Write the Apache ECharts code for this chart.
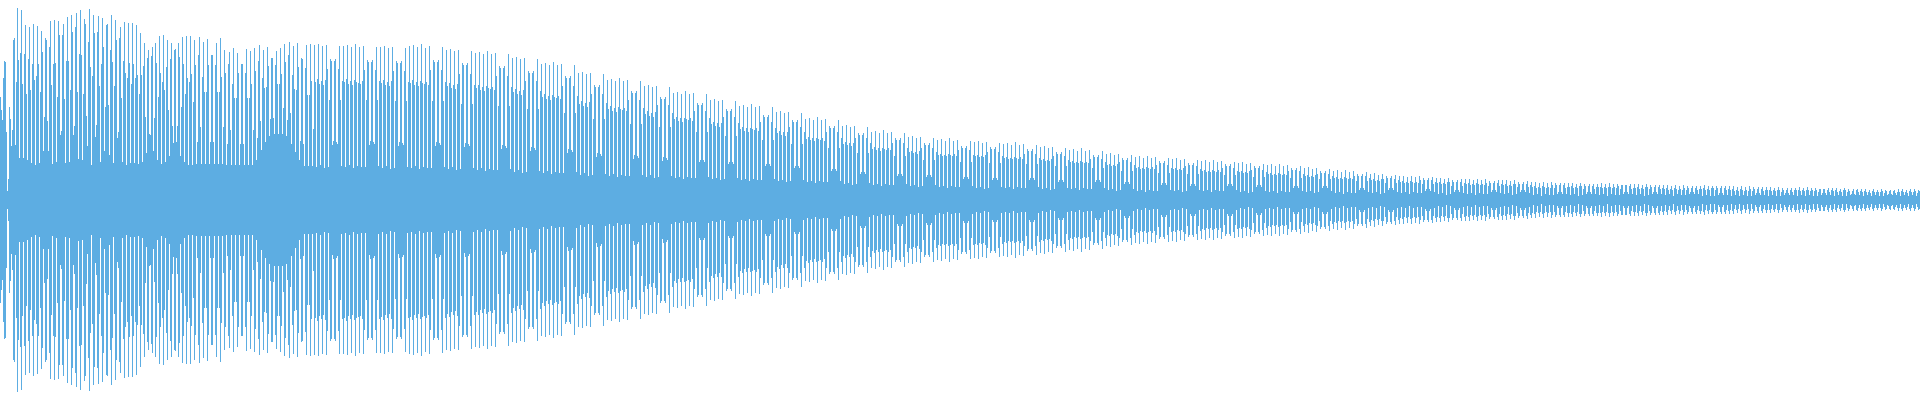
<!DOCTYPE html>
<html>
<head>
<meta charset="utf-8">
<script src="https://cdn.jsdelivr.net/npm/echarts@6/dist/echarts.min.js"></script>
<style>html,body{margin:0;padding:0;background:#fff;}#chart{width:1920px;height:400px;}</style>
</head>
<body>
<div id="chart"></div>
<script>
// Half-range (peak amplitude) of the waveform in each pixel column.
const amplitude = [
103,90,80,122,139,138,68,9,21,93,81,54,70,160,162,55,118,192,140,42,
147,190,116,42,146,175,106,40,141,173,110,37,136,176,120,35,124,174,136,37,
108,169,148,49,83,162,160,79,49,153,179,115,36,136,180,137,38,103,179,165,
65,69,165,176,101,37,139,183,139,38,110,185,168,65,74,173,187,108,41,146,
190,145,40,106,181,176,84,54,158,191,133,35,124,185,167,63,75,168,184,114,
38,136,182,153,49,93,175,176,95,45,150,185,138,37,114,180,160,62,68,162,
173,102,38,139,178,127,35,122,177,137,37,116,177,136,37,122,175,125,36,106,
167,125,38,134,157,83,47,142,150,66,65,144,153,49,82,157,137,40,103,164,
127,36,118,165,110,38,133,160,90,44,141,157,74,57,150,151,58,74,157,143,
44,93,163,136,38,106,164,122,35,118,164,126,35,98,
160,135,36,58,145,163,73,36,123,158,108,36,108,161,135,36,58,145,145,58,36,135,157,108,36,108,162,123,36,73,
150,127,35,56,136,148,70,35,116,152,102,35,102,147,127,35,56,136,136,56,35,127,151,102,35,102,149,116,35,70,
152,129,40,62,139,155,79,50,122,150,112,58,113,153,134,64,81,142,142,82,66,135,149,116,66,116,152,126,66,92,
156,138,64,80,145,158,87,56,125,154,111,48,110,157,133,40,59,142,141,56,34,132,155,105,34,105,156,119,34,71,
155,118,33,121,156,116,35,119,154,115,32,120,155,131,33,100,141,139,55,59,139,141,58,56,131,154,100,34,119,
154,118,33,121,155,116,35,119,153,115,32,120,156,118,34,117,153,116,33,119,154,130,33,100,140,138,55,59,138,140,58,56,130,153,100,34,119,
153,117,32,120,154,115,34,118,152,114,31,119,153,129,32,99,139,137,54,58,137,139,57,55,129,152,99,33,118,
154,117,32,120,155,115,34,118,153,114,31,119,156,117,33,116,152,118,32,115,154,130,32,99,140,138,54,58,138,140,57,55,130,153,99,33,118,
150,114,31,117,151,112,33,115,149,111,30,116,150,126,31,96,137,135,53,57,135,137,56,54,126,149,96,32,115,
147,112,30,115,148,110,32,113,146,109,29,114,149,112,31,111,146,113,30,110,147,124,30,94,134,132,51,55,132,134,54,52,124,146,94,31,113,
142,108,28,111,143,106,30,109,141,105,27,110,142,119,28,91,129,127,49,53,127,129,52,50,119,141,91,29,109,
136,103,27,106,137,101,29,104,135,100,26,105,138,103,28,102,135,104,27,101,136,114,27,87,124,122,47,51,122,124,50,48,114,135,87,28,104,
127,96,25,99,128,94,27,97,126,93,24,98,127,106,25,81,115,113,43,47,113,115,46,44,106,126,81,26,97,
120,91,24,94,121,89,26,92,119,88,23,93,122,91,25,90,119,92,24,89,120,100,24,76,109,107,41,45,107,109,44,42,100,119,76,25,92,
114,86,23,89,115,84,25,87,113,83,22,88,114,95,23,73,103,101,39,43,101,103,42,40,95,113,73,24,87,
107,81,22,83,108,79,23,82,106,78,21,82,109,81,23,80,106,82,22,79,107,89,22,68,97,95,38,40,95,97,40,38,89,106,68,23,82,
100,76,21,78,101,74,22,77,99,73,20,77,100,83,21,64,91,89,36,38,89,91,38,36,83,99,64,22,77,
94,71,20,73,95,69,21,72,93,68,19,72,96,71,21,70,93,72,20,69,94,78,20,60,85,83,34,36,83,85,36,34,78,93,60,21,72,
88,67,19,69,89,65,20,68,87,64,18,68,88,73,19,56,80,78,32,34,78,80,34,32,73,87,56,20,68,
81,61,18,63,82,60,19,62,80,59,17,62,83,61,19,60,80,62,18,59,81,68,18,52,74,72,29,31,72,74,31,29,68,80,52,19,62,
74,56,16,58,75,55,17,57,73,54,15,57,74,62,16,47,67,65,26,28,65,67,28,26,62,73,47,17,57,
68,51,15,53,69,50,16,52,67,49,14,52,70,51,16,50,67,52,15,50,68,57,15,44,62,60,24,26,60,62,26,24,57,67,44,16,52,
63,48,14,49,64,47,15,48,62,46,13,49,63,52,14,40,57,55,23,25,55,57,25,23,52,62,40,15,48,
60,45,13,46,61,44,14,45,59,44,12,46,62,45,14,44,59,46,13,44,60,50,13,38,54,52,21,23,52,54,23,21,50,59,38,14,45,
58,44,12,45,59,43,13,44,57,43,11,45,58,48,12,37,53,51,20,22,51,53,22,20,48,57,37,13,44,
56,42,12,43,57,41,13,42,55,41,11,43,58,42,13,41,55,43,12,41,56,46,12,36,51,49,20,22,49,51,22,20,46,55,36,13,42,
53,40,11,41,54,39,12,40,52,39,10,41,53,44,11,34,48,46,18,20,46,48,20,18,44,52,34,12,40,
50,38,11,39,51,37,12,38,49,37,10,39,52,38,12,37,49,38,11,37,50,41,11,32,45,43,18,20,43,45,20,18,41,49,32,12,38,
46,35,10,36,47,34,11,35,45,34,9,36,46,38,10,29,42,40,16,18,40,42,18,16,38,45,29,11,35,
43,32,9,33,44,31,10,32,42,31,8,33,44,32,10,31,42,33,9,31,43,35,9,27,39,37,15,17,37,39,17,15,35,42,27,10,32,
41,31,9,32,42,30,10,31,40,30,8,32,41,34,9,26,37,35,14,16,35,37,16,14,34,40,26,10,31,
39,29,9,30,40,28,10,29,38,28,8,30,40,29,10,28,38,30,9,28,39,32,9,25,36,34,14,16,34,36,16,14,32,38,25,10,29,
37,28,8,29,38,27,9,28,36,27,7,29,37,30,8,23,34,32,13,15,32,34,15,13,30,36,23,9,28,
35,26,8,27,36,25,9,26,34,25,7,27,36,26,9,25,34,26,8,25,35,29,8,22,32,30,12,14,30,32,14,12,29,34,22,9,26,
32,24,8,25,33,23,9,24,31,23,7,25,32,26,8,21,29,27,12,14,27,29,14,12,26,31,21,9,24,
29,22,7,23,30,21,8,22,28,21,6,23,30,22,8,21,28,22,7,21,29,24,7,19,26,24,10,12,24,26,12,10,24,28,19,8,22,
26,20,7,21,27,19,8,20,25,19,6,21,26,21,7,17,24,22,10,12,22,24,12,10,21,25,17,8,20,
24,18,7,19,24,17,8,18,23,17,6,19,24,18,8,17,23,18,7,17,24,20,7,16,22,20,9,11,20,22,11,9,20,23,16,8,18,
22,17,6,18,22,16,7,17,21,16,5,18,22,18,6,14,20,18,8,10,18,20,10,8,18,21,14,7,17,
21,16,6,17,21,15,7,16,20,15,5,17,21,16,7,15,20,16,6,15,21,17,6,14,19,17,8,10,17,19,10,8,17,20,14,7,16,
20,15,6,16,20,14,7,15,19,14,5,16,20,16,6,13,18,16,8,10,16,18,10,8,16,19,13,7,15,
18,13,5,14,18,12,6,13,17,12,4,14,18,13,6,12,17,13,5,12,18,15,5,12,17,15,6,8,15,17,8,6,15,17,12,6,13,
17,13,5,14,17,12,6,13,16,12,4,14,17,14,5,11,16,14,6,8,14,16,8,6,14,16,11,6,13,
16,13,5,13,17,12,6,13,16,12,4,13,17,13,6,12,16,13,5,12,16,14,5,11,15,15,6,8,15,15,8,6,14,16,11,6,12,
16,12,5,13,16,11,6,12,15,11,4,13,16,13,5,11,15,13,6,8,13,15,8,6,13,15,11,6,12,
15,11,5,12,15,10,6,11,14,10,4,12,15,11,6,10,14,11,5,10,15,12,5,10,14,12,6,8,12,14,8,6,12,14,10,6,11,
14,11,4,12,15,10,5,11,14,10,4,12,14,12,4,10,14,12,5,7,12,14,7,5,12,14,10,5,11,
14,10,4,11,14,9,5,10,13,9,4,11,14,10,5,9,13,10,4,9,14,11,4,9,13,11,5,7,11,13,7,5,11,13,9,5,10,
13,10,4,10,13,9,5,10,12,9,4,10,13,10,4,8,12,10,5,7,10,12,7,5,10,12,8,5,10,
12,10,4,10,13,9,5,10,12,9,4,10,13,10,5,9,12,10,4,9,12,10,4,8,11,11,5,7,11,11,7,5,10,12,8,5,10,
12,9,4,10,12,8,5,9,11,8,4,10,12,10,4,8,11,9,5,6,9,11,6,5,10,11,8,5,9,
11,8,4,9,11,8,5,8,10,7,4,9,11,8,5,8,10,8,4,8,11,9,4,7,10,9,5,6,9,10,6,5,9,10,7,5,8,
11,8,4,9,11,8,5,8,10,7,4,9,11,8,5,8,11,9,4,7,10,9
];
const columns = amplitude.map((_, i) => i);
const upper = amplitude.slice();
const lower = amplitude.map(v => -v);

const chart = echarts.init(document.getElementById('chart'), null, {renderer: 'canvas'});
chart.setOption({
  animation: false,
  backgroundColor: '#ffffff',
  grid: {left: 0, right: 0, top: 0, bottom: 0},
  xAxis: {type: 'category', data: columns, show: false, boundaryGap: true},
  yAxis: {type: 'value', min: -200, max: 200, show: false},
  series: [
    {type: 'bar', data: upper, barWidth: 1, barGap: '-100%', itemStyle: {color: '#5dade2'}, silent: true},
    {type: 'bar', data: lower, barWidth: 1, barGap: '-100%', itemStyle: {color: '#5dade2'}, silent: true}
  ]
});
</script>
</body>
</html>
